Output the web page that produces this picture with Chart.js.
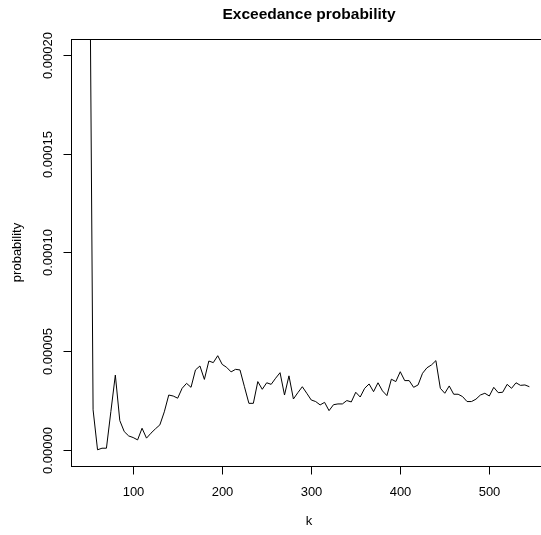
<!DOCTYPE html>
<html>
<head>
<meta charset="utf-8">
<script src="https://cdn.jsdelivr.net/npm/chart.js@4.4.1/dist/chart.umd.min.js"></script>
<style>
  html, body { margin: 0; padding: 0; background: #fff; overflow: hidden; }
  #wrap { width: 541px; height: 535px; overflow: hidden; }
</style>
</head>
<body>
<div id="wrap"><canvas id="exceedChart" width="560" height="535"></canvas></div>
<script>
// k values and exceedance probability
const kValues = [
    50, 55, 60, 65, 70, 75, 80, 85, 90, 95,
    100, 105, 110, 115, 120, 125, 130, 135, 140, 145,
    150, 155, 160, 165, 170, 175, 180, 185, 190, 195,
    200, 205, 210, 215, 220, 225, 230, 235, 240, 245,
    250, 255, 260, 265, 270, 275, 280, 285, 290, 295,
    300, 305, 310, 315, 320, 325, 330, 335, 340, 345,
    350, 355, 360, 365, 370, 375, 380, 385, 390, 395,
    400, 405, 410, 415, 420, 425, 430, 435, 440, 445,
    450, 455, 460, 465, 470, 475, 480, 485, 490, 495,
    500, 505, 510, 515, 520, 525, 530, 535, 540, 545
];
const probability = [
    34e-5, 2.04e-5, 0.02e-5, 0.10e-5, 0.10e-5, 1.96e-5, 3.80e-5, 1.50e-5, 0.94e-5, 0.72e-5,
    0.64e-5, 0.52e-5, 1.11e-5, 0.61e-5, 0.86e-5, 1.08e-5, 1.28e-5, 1.94e-5, 2.79e-5, 2.74e-5,
    2.63e-5, 3.13e-5, 3.38e-5, 3.18e-5, 4.06e-5, 4.26e-5, 3.58e-5, 4.51e-5, 4.43e-5, 4.78e-5,
    4.34e-5, 4.19e-5, 3.96e-5, 4.09e-5, 4.06e-5, 3.21e-5, 2.37e-5, 2.37e-5, 3.47e-5, 3.08e-5,
    3.41e-5, 3.33e-5, 3.64e-5, 3.92e-5, 2.79e-5, 3.76e-5, 2.59e-5, 2.91e-5, 3.21e-5, 2.88e-5,
    2.54e-5, 2.46e-5, 2.29e-5, 2.42e-5, 2.00e-5, 2.30e-5, 2.34e-5, 2.34e-5, 2.51e-5, 2.44e-5,
    2.93e-5, 2.69e-5, 3.13e-5, 3.35e-5, 2.96e-5, 3.41e-5, 3.00e-5, 2.76e-5, 3.59e-5, 3.47e-5,
    3.97e-5, 3.52e-5, 3.52e-5, 3.18e-5, 3.30e-5, 3.89e-5, 4.17e-5, 4.31e-5, 4.53e-5, 3.13e-5,
    2.88e-5, 3.25e-5, 2.83e-5, 2.83e-5, 2.71e-5, 2.46e-5, 2.46e-5, 2.58e-5, 2.79e-5, 2.88e-5,
    2.74e-5, 3.18e-5, 2.91e-5, 2.93e-5, 3.33e-5, 3.13e-5, 3.41e-5, 3.28e-5, 3.30e-5, 3.21e-5
];
const xTicks = [100, 200, 300, 400, 500];
const yTicks = [0, 0.00005, 0.0001, 0.00015, 0.0002];
const yTickLabels = ['0.00000', '0.00005', '0.00010', '0.00015', '0.00020'];

const FONT = '"Liberation Sans", Arial, Helvetica, sans-serif';

// R-style frame, ticks and labels, placed through the chart's own scales
const baseGraphics = {
    id: 'baseGraphics',
    afterDraw(chart) {
        const ctx = chart.ctx;
        const area = chart.chartArea;
        const xs = chart.scales.x;
        const ys = chart.scales.y;
        ctx.save();
        ctx.strokeStyle = '#000';
        ctx.fillStyle = '#000';
        ctx.lineWidth = 1;

        ctx.strokeRect(Math.round(area.left) + 0.5, Math.round(area.top) + 0.5,
            Math.round(area.right - area.left), Math.round(area.bottom - area.top));

        const bottom = Math.round(area.bottom) + 0.5;
        const left = Math.round(area.left) + 0.5;

        ctx.font = '13px ' + FONT;
        ctx.textAlign = 'center';
        ctx.textBaseline = 'middle';
        xTicks.forEach(v => {
            const px = Math.round(xs.getPixelForValue(v)) + 0.5;
            ctx.beginPath();
            ctx.moveTo(px, bottom);
            ctx.lineTo(px, bottom + 8);
            ctx.stroke();
            ctx.fillText(String(v), px, 492);
        });

        yTicks.forEach((v, i) => {
            const py = Math.round(ys.getPixelForValue(v)) + 0.5;
            ctx.beginPath();
            ctx.moveTo(left, py);
            ctx.lineTo(left - 8, py);
            ctx.stroke();
            ctx.save();
            ctx.translate(48, py);
            ctx.rotate(-Math.PI / 2);
            ctx.fillText(yTickLabels[i], 0, 0);
            ctx.restore();
        });

        ctx.fillText('k', (area.left + area.right) / 2, 521);
        ctx.save();
        ctx.translate(17, (area.top + area.bottom) / 2);
        ctx.rotate(-Math.PI / 2);
        ctx.fillText('probability', 0, 0);
        ctx.restore();

        ctx.font = 'bold 15.5px ' + FONT;
        ctx.fillText('Exceedance probability', (area.left + area.right) / 2, 15);
        ctx.restore();
    }
};

new Chart(document.getElementById('exceedChart'), {
    type: 'line',
    data: {
        datasets: [{
            data: kValues.map((k, i) => ({ x: k, y: probability[i] })),
            borderColor: '#000',
            borderWidth: 1,
            pointRadius: 0,
            tension: 0,
            fill: false,
            clip: 0
        }]
    },
    options: {
        responsive: false,
        animation: false,
        devicePixelRatio: 1,
        layout: { padding: { left: 71, right: 13, top: 39, bottom: 69 } },
        plugins: { legend: { display: false }, tooltip: { enabled: false } },
        scales: {
            x: { type: 'linear', min: 30.2, max: 564.8, display: false },
            y: { type: 'linear', min: -0.000008, max: 0.000208, display: false }
        }
    },
    plugins: [baseGraphics]
});
</script>
</body>
</html>
